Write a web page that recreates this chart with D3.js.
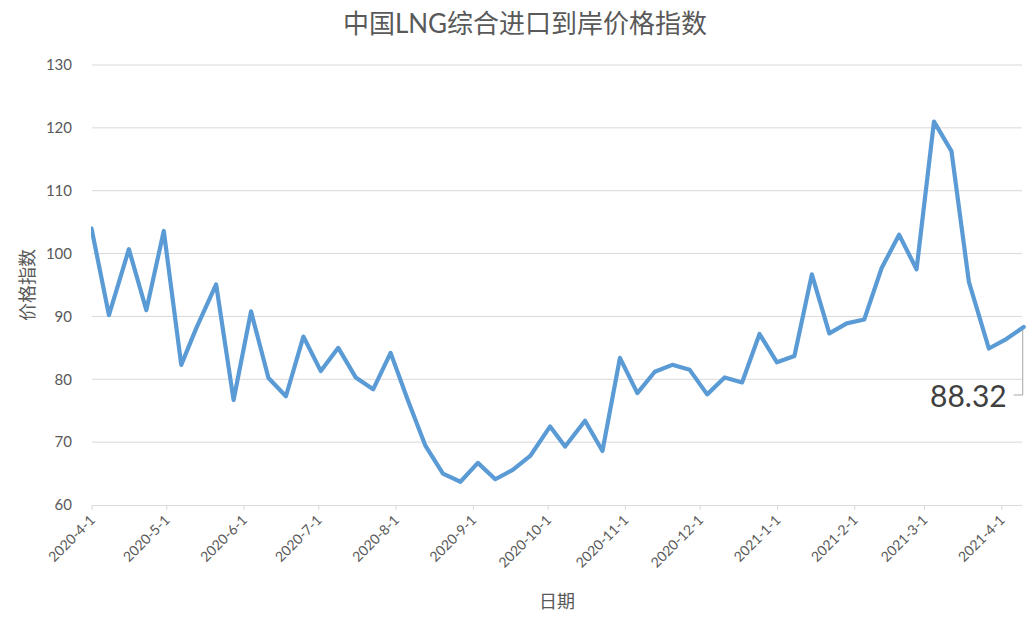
<!DOCTYPE html>
<html>
<head>
<meta charset="utf-8">
<script src="https://cdn.jsdelivr.net/npm/d3@7"></script>
<style>
  html, body { margin: 0; padding: 0; background: #fff; }
  svg { display: block; }
  text { font-family: Lato, "Noto Sans CJK SC", sans-serif; }
</style>
</head>
<body>
<svg id="chart" width="1028" height="619"></svg>
<script>
const chartTitle = "中国LNG综合进口到岸价格指数";
const yTitle = "价格指数";
const xTitle = "日期";

const dates = [
  "2020-03-25",
  "2020-04-01","2020-04-08","2020-04-16","2020-04-23","2020-04-30","2020-05-07","2020-05-13","2020-05-21",
  "2020-05-28","2020-06-04","2020-06-11","2020-06-18","2020-06-25","2020-07-02","2020-07-09","2020-07-16",
  "2020-07-23","2020-07-30","2020-08-06","2020-08-13","2020-08-20","2020-08-27","2020-09-03","2020-09-10",
  "2020-09-17","2020-09-24","2020-10-02","2020-10-08","2020-10-16","2020-10-23","2020-10-30","2020-11-06",
  "2020-11-13","2020-11-20","2020-11-27","2020-12-04","2020-12-11","2020-12-18","2020-12-25","2021-01-01",
  "2021-01-08","2021-01-15","2021-01-22","2021-01-29","2021-02-05","2021-02-12","2021-02-19","2021-02-26",
  "2021-03-05","2021-03-12","2021-03-19","2021-03-27","2021-04-03","2021-04-10"
];
const values = [
  96.0,
  104.0, 90.2, 100.7, 91.0, 103.6, 82.3, 88.1, 95.1,
  76.7, 90.8, 80.2, 77.3, 86.8, 81.3, 85.0, 80.3,
  78.4, 84.2, 76.6, 69.4, 65.0, 63.7, 66.7, 64.1,
  65.6, 67.8, 72.5, 69.3, 73.4, 68.6, 83.4, 77.8,
  81.2, 82.3, 81.5, 77.6, 80.3, 79.5, 87.2, 82.7,
  83.7, 96.7, 87.3, 88.9, 89.5, 97.7, 103.0, 97.5,
  121.0, 116.3, 95.5, 84.9, 86.4, 88.32
];
const xTickLabels = ["2020-4-1","2020-5-1","2020-6-1","2020-7-1","2020-8-1","2020-9-1","2020-10-1",
  "2020-11-1","2020-12-1","2021-1-1","2021-2-1","2021-3-1","2021-4-1"];
const yTicks = [60, 70, 80, 90, 100, 110, 120, 130];
const lastLabel = "88.32";

const parse = d3.timeParse("%Y-%m-%d");
const data = dates.map((d, i) => ({ date: parse(d), value: values[i] }));
const tickDates = xTickLabels.map(s => parse(s));

const svg = d3.select("#chart");
const plotLeft = 92, plotRight = 1022, plotTop = 65, plotBottom = 505;

const x = d3.scaleTime()
  .domain([tickDates[0], tickDates[tickDates.length - 1]])
  .range([91.5, 1001.3]);
const y = d3.scaleLinear().domain([60, 130]).range([plotBottom, plotTop]);

svg.append("defs").append("clipPath").attr("id", "plotclip")
  .append("rect").attr("x", 91).attr("y", 0).attr("width", 940).attr("height", 619);

// Title
svg.append("text")
  .attr("x", 525).attr("y", 33)
  .attr("text-anchor", "middle")
  .attr("font-size", 26)
  .attr("fill", "#595959")
  .text(chartTitle);

// Gridlines
svg.append("g").selectAll("line")
  .data(yTicks.filter(t => t !== 60))
  .join("line")
  .attr("x1", plotLeft).attr("x2", plotRight)
  .attr("y1", d => y(d)).attr("y2", d => y(d))
  .attr("stroke", "#d9d9d9").attr("stroke-width", 1);

// Y axis labels
const yAxis = d3.axisLeft(y).tickValues(yTicks).tickSize(0).tickPadding(20);
const gy = svg.append("g").attr("transform", `translate(${plotLeft},0)`).call(yAxis);
gy.select(".domain").remove();
gy.selectAll("text").attr("font-size", 15).attr("fill", "#595959")
  .attr("font-family", "Lato, sans-serif");

// X axis
const xAxis = d3.axisBottom(x).tickValues(tickDates).tickSize(5)
  .tickFormat((d, i) => xTickLabels[i]);
const gx = svg.append("g").attr("transform", `translate(0,${plotBottom})`).call(xAxis);
gx.select(".domain").attr("stroke", "#d9d9d9").attr("d", `M${plotLeft},0.5H${plotRight}`);
gx.selectAll(".tick line").attr("stroke", "#d9d9d9");
gx.selectAll("text")
  .attr("font-size", 14).attr("fill", "#595959")
  .attr("font-family", "Lato, sans-serif")
  .attr("text-anchor", "end")
  .attr("dy", null)
  .attr("y", 0)
  .attr("transform", "translate(4,16) rotate(-45)");

// Axis titles
svg.append("text")
  .attr("transform", "translate(34,285) rotate(-90)")
  .attr("text-anchor", "middle")
  .attr("font-size", 18).attr("fill", "#595959")
  .text(yTitle);
svg.append("text")
  .attr("x", 557).attr("y", 608)
  .attr("text-anchor", "middle")
  .attr("font-size", 18).attr("fill", "#595959")
  .text(xTitle);

// Line
const line = d3.line().x(d => x(d.date)).y(d => y(d.value));
svg.append("path")
  .datum(data)
  .attr("clip-path", "url(#plotclip)")
  .attr("fill", "none")
  .attr("stroke", "#5b9bd5")
  .attr("stroke-width", 4.2)
  .attr("stroke-linejoin", "round")
  .attr("stroke-linecap", "round")
  .attr("d", line);

// Last-point label with leader line
const last = data[data.length - 1];
const lx = x(last.date), ly = y(last.value);
svg.append("path")
  .attr("d", `M${lx - 10},${ly + 68}H${lx - 1}V${ly + 3}`)
  .attr("fill", "none").attr("stroke", "#a6a6a6").attr("stroke-width", 1);
svg.append("text")
  .attr("x", lx - 17).attr("y", ly + 80)
  .attr("text-anchor", "end")
  .attr("font-size", 30).attr("fill", "#404040")
  .attr("font-family", "Lato, sans-serif")
  .text(lastLabel);
</script>
</body>
</html>
